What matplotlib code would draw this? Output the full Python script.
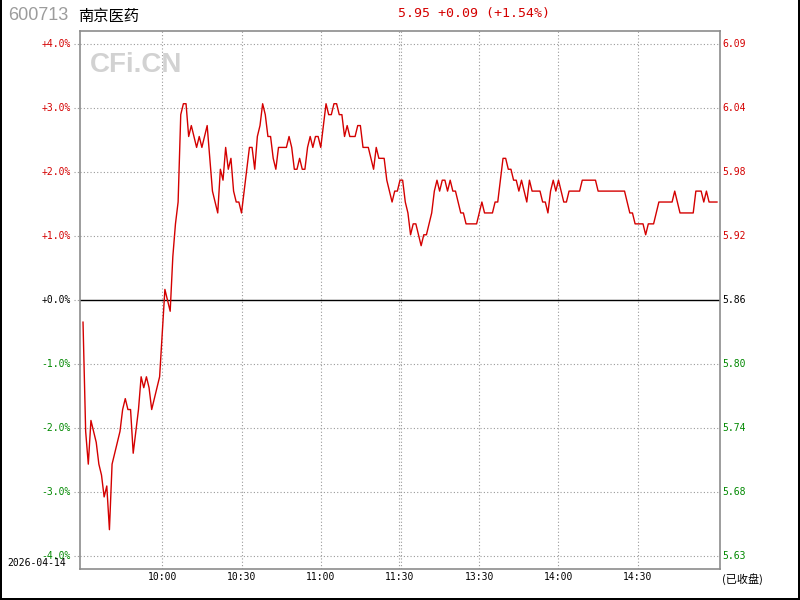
import matplotlib
matplotlib.use('Agg')
import matplotlib.pyplot as plt
from matplotlib.transforms import blended_transform_factory
from matplotlib.lines import Line2D
import numpy as np

# ---------------- data ----------------
code = "600713"
name = "南京医药"
prev_close = 5.86
last_price = 5.95
change = 0.09
change_pct = 1.54
date_label = "2026-04-14"
status_label = "(已收盘)"
watermark = "CFi.CN"

prices = [
    5.84, 5.74, 5.71, 5.75, 5.74, 5.73, 5.71, 5.70, 5.68, 5.69,
    5.65, 5.71, 5.72, 5.73, 5.74, 5.76, 5.77, 5.76, 5.76, 5.72,
    5.74, 5.76, 5.79, 5.78, 5.79, 5.78, 5.76, 5.77, 5.78, 5.79,
    5.83, 5.87, 5.86, 5.85, 5.90, 5.93, 5.95, 6.03, 6.04, 6.04,
    6.01, 6.02, 6.01, 6.00, 6.01, 6.00, 6.01, 6.02, 5.99, 5.96,
    5.95, 5.94, 5.98, 5.97, 6.00, 5.98, 5.99, 5.96, 5.95, 5.95,
    5.94, 5.96, 5.98, 6.00, 6.00, 5.98, 6.01, 6.02, 6.04, 6.03,
    6.01, 6.01, 5.99, 5.98, 6.00, 6.00, 6.00, 6.00, 6.01, 6.00,
    5.98, 5.98, 5.99, 5.98, 5.98, 6.00, 6.01, 6.00, 6.01, 6.01,
    6.00, 6.02, 6.04, 6.03, 6.03, 6.04, 6.04, 6.03, 6.03, 6.01,
    6.02, 6.01, 6.01, 6.01, 6.02, 6.02, 6.00, 6.00, 6.00, 5.99,
    5.98, 6.00, 5.99, 5.99, 5.99, 5.97, 5.96, 5.95, 5.96, 5.96,
    5.97, 5.97, 5.95, 5.94, 5.92, 5.93, 5.93, 5.92, 5.91, 5.92,
    5.92, 5.93, 5.94, 5.96, 5.97, 5.96, 5.97, 5.97, 5.96, 5.97,
    5.96, 5.96, 5.95, 5.94, 5.94, 5.93, 5.93, 5.93, 5.93, 5.93,
    5.94, 5.95, 5.94, 5.94, 5.94, 5.94, 5.95, 5.95, 5.97, 5.99,
    5.99, 5.98, 5.98, 5.97, 5.97, 5.96, 5.97, 5.96, 5.95, 5.97,
    5.96, 5.96, 5.96, 5.96, 5.95, 5.95, 5.94, 5.96, 5.97, 5.96,
    5.97, 5.96, 5.95, 5.95, 5.96, 5.96, 5.96, 5.96, 5.96, 5.97,
    5.97, 5.97, 5.97, 5.97, 5.97, 5.96, 5.96, 5.96, 5.96, 5.96,
    5.96, 5.96, 5.96, 5.96, 5.96, 5.96, 5.95, 5.94, 5.94, 5.93,
    5.93, 5.93, 5.93, 5.92, 5.93, 5.93, 5.93, 5.94, 5.95, 5.95,
    5.95, 5.95, 5.95, 5.95, 5.96, 5.95, 5.94, 5.94, 5.94, 5.94,
    5.94, 5.94, 5.96, 5.96, 5.96, 5.95, 5.96, 5.95, 5.95, 5.95,
    5.95,
]

pct_levels = [4, 3, 2, 1, 0, -1, -2, -3, -4]
left_labels = ["+4.0%", "+3.0%", "+2.0%", "+1.0%", "+0.0%",
               "-1.0%", "-2.0%", "-3.0%", "-4.0%"]
right_labels = ["6.09", "6.04", "5.98", "5.92", "5.86",
                "5.80", "5.74", "5.68", "5.63"]
time_idx = [30, 60, 90, 120, 150, 180, 210]
time_labels = ["10:00", "10:30", "11:00", "11:30", "13:30", "14:00", "14:30"]

# ---------------- style ----------------
RED = '#d40000'
GREEN = '#008800'
GRID = '#9a9a9a'
MONO = 'DejaVu Sans Mono'
CJK = ['Noto Sans CJK SC', 'DejaVu Sans']
W, H = 800, 600

fig = plt.figure(figsize=(8, 6), dpi=100)
fig.patch.set_facecolor('white')

L, R, T, B = 80, 720, 31, 569
ax = fig.add_axes([L / W, 1 - B / H, (R - L) / W, (B - T) / H])
ax.set_xlim(-1.14, 241.14)
ax.set_ylim(-4.198, 4.208)
ax.set_xticks([])
ax.set_yticks([])
for s in ax.spines.values():
    s.set_color('#8c8c8c')
    s.set_linewidth(1.2)

blend = blended_transform_factory(ax.transAxes, ax.transData)
blend_x = blended_transform_factory(ax.transData, fig.transFigure)

# horizontal grid & labels
for lvl, ltxt, rtxt in zip(pct_levels, left_labels, right_labels):
    if lvl == 0:
        ax.axhline(0, color='black', lw=1.0, zorder=2)
        col = 'black'
    else:
        ax.axhline(lvl, color=GRID, lw=0.8, ls=(0, (1, 2)), zorder=1)
        col = RED if lvl > 0 else GREEN
    ax.plot([-6 / (R - L), 0], [lvl, lvl], transform=blend, color=GRID,
            lw=0.8, ls=(0, (1, 2)), clip_on=False)
    ax.text(-9 / (R - L), lvl, ltxt, transform=blend, ha='right', va='center',
            color=col, fontsize=7, family=MONO)
    ax.text(1 + 2 / (R - L), lvl, rtxt, transform=blend, ha='left', va='center',
            color=col, fontsize=7, family=MONO)

# vertical grid & time labels
for ti, tl in zip(time_idx, time_labels):
    if ti == 120:
        ax.axvline(119.5, color=GRID, lw=0.8, ls=(0, (1, 2)), zorder=1)
        ax.axvline(120.2, color=GRID, lw=0.8, ls=(0, (1, 2)), zorder=1)
    else:
        ax.axvline(ti, color=GRID, lw=0.8, ls=(0, (1, 2)), zorder=1)
    ax.text(ti, 1 - 577 / H, tl, transform=blend_x, ha='center', va='center',
            color='black', fontsize=7, family=MONO)

# price line
pct = (np.array(prices) - prev_close) / prev_close * 100
x = np.arange(len(prices))
ax.plot(x, pct, color=RED, lw=1.0, zorder=3)

# watermark
fig.text(90 / W, 1 - 65 / H, watermark, ha='left', va='center',
         fontsize=20, fontweight='bold', family='Liberation Sans', color='#d2d2d2')

# header
fig.text(8 / W, 1 - 16 / H, code, ha='left', va='center', fontsize=13,
         family='Liberation Sans', color='#9c9c9c')
fig.text(78 / W, 1 - 16 / H, name, ha='left', va='center', fontsize=11,
         family=CJK, color='black')
sign = '+' if change >= 0 else '-'
header = f"{last_price:.2f} {sign}{abs(change):.2f} ({sign}{abs(change_pct):.2f}%)"
fig.text(398 / W, 1 - 14 / H, header, ha='left', va='center', fontsize=9.5,
         family=MONO, color=RED)

# footer texts
fig.text(7 / W, 1 - 563 / H, date_label, ha='left', va='center', fontsize=7,
         family=MONO, color='black')
fig.text(722 / W, 1 - 579 / H, status_label, ha='left', va='center', fontsize=8,
         family=CJK, color='black')

# outer frame (left, right, bottom)
lw_px = 2 * 72 / 100
fig.add_artist(Line2D([1 / W, 1 / W], [0, 1], transform=fig.transFigure,
                      color='black', lw=lw_px))
fig.add_artist(Line2D([1 - 1 / W, 1 - 1 / W], [0, 1], transform=fig.transFigure,
                      color='black', lw=lw_px))
fig.add_artist(Line2D([0, 1], [1 / H, 1 / H], transform=fig.transFigure,
                      color='black', lw=lw_px))

fig.savefig('out.png', dpi=100)
